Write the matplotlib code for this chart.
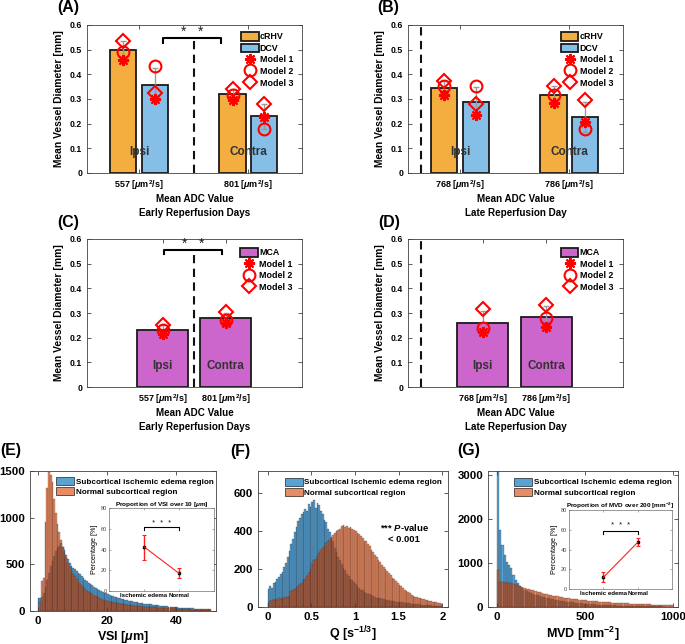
import numpy as np
import matplotlib
matplotlib.use('Agg')
import matplotlib.pyplot as plt
from matplotlib.patches import Patch
from matplotlib.lines import Line2D

plt.rcParams['font.family'] = ['Liberation Sans', 'DejaVu Sans']
plt.rcParams['mathtext.fontset'] = 'custom'
plt.rcParams['mathtext.rm'] = 'Liberation Sans:bold'
plt.rcParams['mathtext.it'] = 'Liberation Sans:italic:bold'
plt.rcParams['mathtext.bf'] = 'Liberation Sans:bold'

# ---------------- data ----------------
groups = ['Ipsi', 'Contra']
adc_early = ['557', '801']
adc_late = ['768', '786']
model_names = ['Model 1', 'Model 2', 'Model 3']

A_crhv = [0.497, 0.320]
A_dcv = [0.355, 0.230]
A_crhv_models = [[0.460, 0.490, 0.537], [0.297, 0.315, 0.340]]
A_dcv_models = [[0.300, 0.432, 0.325], [0.228, 0.180, 0.280]]

B_crhv = [0.345, 0.318]
B_dcv = [0.288, 0.228]
B_crhv_models = [[0.318, 0.352, 0.372], [0.285, 0.315, 0.352]]
B_dcv_models = [[0.235, 0.352, 0.280], [0.207, 0.180, 0.295]]

C_mca = [0.232, 0.278]
C_mca_models = [[0.215, 0.230, 0.250], [0.260, 0.270, 0.305]]

D_mca = [0.258, 0.284]
D_mca_models = [[0.222, 0.238, 0.315], [0.242, 0.278, 0.332]]

# histograms (counts per bin)
E_bin = 0.5
E_edema = [140,135,150,190,260,330,410,480,540,590,
           640,680,700,725,690,650,600,555,510,485,
           460,445,425,410,395,370,352,335,318,302,
           290,276,262,250,238,226,214,206,196,188,
           180,172,166,158,152,146,140,134,130,124,
           120,115,111,106,102,98,95,92,88,86,
           82,80,77,74,72,70,67,65,62,60,
           58,56,54,52,50,48,46,44,42,40,
           38,37,35,34,32,31,30,29,28,27,
           26,25,24,23,22,21,20,19,18,17]
E_normal = [0,100,320,350,950,1320,1490,1460,1380,1200,
            1050,930,850,760,690,620,565,510,470,430,
            400,370,340,315,290,270,252,234,218,204,
            190,178,166,156,147,138,130,123,117,111,
            106,101,97,93,89,85,82,79,76,73,
            70,67,64,62,60,58,56,54,52,50,
            48,47,45,44,42,41,40,39,38,37,
            36,35,34,33,32,31,30,29,28,27,
            24,23,22,21,20,19,18,17,16,15,
            14,13,12,12,11,10,10,9,8,7]

F_bin = 0.02
F_edema = [95,110,100,125,130,145,160,175,185,210,
           230,265,295,330,360,395,420,455,470,490,
           500,515,505,540,525,555,565,520,550,535,
           505,490,460,445,410,395,365,345,310,290,
           265,250,225,205,195,175,165,150,140,130,
           120,110,100,92,88,80,76,70,66,62,
           58,54,50,48,45,44,40,38,36,35,
           33,31,30,28,27,26,25,24,23,22,
           20,19,18,17,16,15,14,13,12,11,
           10,9,9,8,7,7,6,5,5,4]
F_normal = [20,30,35,35,40,38,45,42,50,48,
            55,52,60,85,90,95,100,110,120,125,
            140,150,165,180,200,225,245,255,270,285,
            300,310,320,335,345,355,370,380,390,400,
            405,410,425,430,420,425,415,420,410,405,
            400,390,385,375,365,350,345,330,320,300,
            290,275,265,250,235,220,210,200,190,180,
            170,155,145,135,125,115,108,100,92,85,
            80,72,65,60,55,52,48,45,42,40,
            38,35,33,30,28,25,27,22,20,15]

G_bin = 12.5
G_edema = [3080,1750,1400,1190,1020,950,880,720,620,540,
           480,430,395,365,340,320,300,282,266,250,
           236,222,210,198,186,175,165,155,147,139,
           131,124,117,110,104,98,93,88,83,78,
           74,70,66,62,59,56,53,50,47,45,
           42,40,38,36,34,32,30,29,27,26,
           25,24,22,21,20,19,18,17,16,15,
           15,14,13,12,12,11,10,10,9,9]
G_normal = [830,560,570,555,560,545,540,520,500,490,
            470,450,435,420,405,390,375,360,345,330,
            318,305,292,280,268,258,249,240,231,222,
            214,206,199,192,185,178,172,166,160,155,
            150,145,140,135,131,127,123,119,115,112,
            108,105,102,99,96,93,90,88,85,83,
            78,75,73,70,68,66,64,62,60,58,
            56,54,52,50,48,46,44,42,40,38]

inset_cats = ['Ischemic edema', 'Normal']
E_inset_mean = [42.6, 17.1]
E_inset_lo = [30.3, 12.3]
E_inset_hi = [54.2, 22.5]
G_inset_mean = [11.8, 47.2]
G_inset_lo = [7.1, 43.4]
G_inset_hi = [16.8, 51.2]

# ---------------- figure ----------------
W, H = 685, 644
fig = plt.figure(figsize=(W / 100, H / 100), dpi=100)


def add_ax(l, t, r, b):
    return fig.add_axes([l / W, 1 - b / H, (r - l) / W, (b - t) / H])


def fx(px):
    return px / W


def fy(py):
    return 1 - py / H


SPINE = '#404040'
C_CRHV = '#F4AE3F'
C_DCV = '#85BFE8'
C_MCA = '#CC66CC'
EDGE = '#1a1a1a'
markers = [(8, 2, 0), 'o', 'D']
msizes = [8, 8.5, 7.5]


def style_axes(ax, lw=0.6, length=3):
    for s in ax.spines.values():
        s.set_color(SPINE)
        s.set_linewidth(lw)
    ax.tick_params(direction='in', top=True, right=True, length=length,
                   width=lw, color=SPINE)


def bar_panel(ax, series, colors, names, models, offsets, width, xlim, adc,
              dash_x, dash_top, bracket=None, leg_anchor=(0.7, 0.95)):
    gx = np.array([1.0, 2.0])
    for vals, col, off, mod in zip(series, colors, offsets, models):
        xs = gx + off
        ax.bar(xs, vals, width, color=col, edgecolor=EDGE, linewidth=1.3, zorder=2)
        m = np.array(mod)
        sd = m.std(axis=1, ddof=1)
        ax.errorbar(xs, vals, yerr=sd, fmt='none', ecolor='#9a9a9a',
                    elinewidth=1.0, capsize=2, capthick=1.0, zorder=3)
        for k in range(3):
            ax.plot(xs, m[:, k], linestyle='none', marker=markers[k], ms=msizes[k],
                    mfc='none', mec='red', mew=1.5, color='red', zorder=4)
    for g, txt in zip(gx, groups):
        ax.text(g, 0.085, txt, ha='center', va='center', fontsize=8.5,
                fontweight='bold', color='#333333', zorder=5)
    ax.plot([dash_x, dash_x], [0, dash_top], color='#111111', lw=1.5,
            dashes=(4, 2.6), zorder=5)
    if bracket is not None:
        x1, x2, ylo, ytop, ystar = bracket
        ax.plot([x1, x1, x2, x2], [ylo, ytop, ytop, ylo], color='k', lw=1.5,
                zorder=5)
        ax.text((x1 + x2) / 2, ystar, '*   *', ha='center', va='center',
                fontsize=10, color='#222222')
    ax.set_xlim(*xlim)
    ax.set_ylim(0, 0.6)
    ax.set_yticks(np.arange(0, 0.61, 0.1))
    ax.set_yticklabels(['0', '0.1', '0.2', '0.3', '0.4', '0.5', '0.6'],
                       fontsize=6.3, fontweight='bold')
    ax.set_xticks(gx)
    ax.set_xticklabels([a + r' [$\mu$m$^2$/s]' for a in adc], fontsize=6.5,
                       fontweight='bold')
    ax.tick_params(axis='x', pad=4)
    ax.set_ylabel('Mean Vessel Diameter [mm]', fontsize=7.4, fontweight='bold',
                  labelpad=4)
    style_axes(ax)
    handles = [Patch(facecolor=c, edgecolor=EDGE, linewidth=1.3) for c in colors]
    handles += [Line2D([], [], linestyle='none', marker=markers[k], ms=msizes[k],
                       mfc='none', mec='red', mew=1.5) for k in range(3)]
    ax.legend(handles, list(names) + model_names, loc='upper left',
              bbox_to_anchor=leg_anchor, frameon=False, borderpad=0,
              borderaxespad=0, handlelength=2.0, handleheight=1.12,
              labelspacing=0.25, handletextpad=0.15,
              prop={'size': 6.4, 'weight': 'bold'})
    return ax


# Panel A
axA = add_ax(87, 25, 302, 173)
bar_panel(axA, [A_crhv, A_dcv], [C_CRHV, C_DCV], ['cRHV', 'DCV'],
          [A_crhv_models, A_dcv_models], [-0.145, 0.145], 0.24, (0.525, 2.49),
          adc_early, 1.5, 0.535, bracket=(1.22, 1.75, 0.529, 0.548, 0.572),
          leg_anchor=(0.715, 0.953))
# Panel B
axB = add_ax(408, 25, 623, 173)
bar_panel(axB, [B_crhv, B_dcv], [C_CRHV, C_DCV], ['cRHV', 'DCV'],
          [B_crhv_models, B_dcv_models], [-0.145, 0.145], 0.24, (0.525, 2.49),
          adc_late, 0.645, 0.6, leg_anchor=(0.71, 0.953))
# Panel C
axC = add_ax(87, 239, 302, 387)
bar_panel(axC, [C_mca], [C_MCA], ['MCA'], [C_mca_models], [0.0], 0.8,
          (-0.2, 3.21), adc_early, 1.5, 0.535,
          bracket=(1.02, 1.94, 0.539, 0.557, 0.578), leg_anchor=(0.713, 0.94))
# Panel D
axD = add_ax(408, 239, 623, 387)
bar_panel(axD, [D_mca], [C_MCA], ['MCA'], [D_mca_models], [0.0], 0.8,
          (-0.18, 3.21), adc_late, 0.02, 0.6, leg_anchor=(0.71, 0.94))

# x-axis titles for bar panels
for cx, y1, y2, sub in [(194.5, 199, 213, 'Early Reperfusion Days'),
                        (515.5, 199, 213, 'Late Reperfusion Day'),
                        (194.5, 413, 426.5, 'Early Reperfusion Days'),
                        (515.5, 413, 426.5, 'Late Reperfusion Day')]:
    fig.text(fx(cx), fy(y1), 'Mean ADC Value', ha='center', va='center',
             fontsize=7.1, fontweight='bold')
    fig.text(fx(cx), fy(y2), sub, ha='center', va='center', fontsize=7.1,
             fontweight='bold')

# panel letters
for lab, px, py in [('(A)', 68.5, 7.5), ('(B)', 388.5, 7.5), ('(C)', 68.5, 222),
                    ('(D)', 389, 222), ('(E)', 10.5, 450), ('(F)', 240.5, 451.5),
                    ('(G)', 469, 450)]:
    fig.text(fx(px), fy(py), lab, ha='center', va='center', fontsize=11.4,
             fontweight='bold')

BLUE = (0.0, 0.447, 0.741, 0.65)
ORANGE = (0.85, 0.325, 0.098, 0.66)
HEDGE = (0.08, 0.03, 0.03, 0.5)


def hist_panel(ax, binw, edema, normal, xlim, ylim, xticks, xticklabels,
               yticks, xlabel, leg_x, leg_y):
    n = len(edema)
    left = np.arange(n) * binw
    ax.bar(left, edema, width=binw, align='edge', facecolor=BLUE,
           edgecolor=HEDGE, linewidth=0.3)
    ax.bar(left, normal, width=binw, align='edge', facecolor=ORANGE,
           edgecolor=HEDGE, linewidth=0.3)
    ax.set_xlim(*xlim)
    ax.set_ylim(*ylim)
    ax.set_xticks(xticks)
    ax.set_xticklabels(xticklabels, fontsize=8.2, fontweight='bold')
    ax.set_yticks(yticks)
    ax.set_yticklabels([str(v) for v in yticks], fontsize=8.2, fontweight='bold')
    ax.set_xlabel(xlabel, fontsize=9, fontweight='bold', labelpad=2)
    style_axes(ax, length=3)
    handles = [Patch(facecolor=BLUE, edgecolor=(0, 0, 0, 0.7), linewidth=0.6),
               Patch(facecolor=ORANGE, edgecolor=(0, 0, 0, 0.7), linewidth=0.6)]
    ax.legend(handles, ['Subcortical ischemic edema region',
                        'Normal subcortical region'], loc='upper left',
              bbox_to_anchor=(leg_x, leg_y), frameon=False, borderpad=0,
              borderaxespad=0, handlelength=2.23, handleheight=1.14,
              labelspacing=0.2, handletextpad=0.15,
              prop={'size': 5.9, 'weight': 'bold'})


axE = add_ax(30, 471, 216, 611)
hist_panel(axE, E_bin, E_edema, E_normal, (-2.2, 51.4), (0, 1500), [0, 20, 40],
           ['0', '20', '40'], [0, 500, 1000, 1500], r'VSI [$\mu$m]', 0.141, 0.959)
axF = add_ax(258, 471, 448, 607)
hist_panel(axF, F_bin, F_edema, F_normal, (-0.11, 2.065), (0, 716),
           [0, 0.5, 1, 1.5, 2], ['0', '0.5', '1', '1.5', '2'], [0, 200, 400, 600],
           r'Q [s$^{-1/3}$]', 0.142, 0.951)
axG = add_ax(488, 471, 678, 607)
hist_panel(axG, G_bin, G_edema, G_normal, (-51, 1028), (0, 3090),
           [0, 500, 1000], ['0', '500', '1000'], [0, 1000, 2000, 3000],
           r'MVD [mm$^{-2}$]', 0.138, 0.951)

fig.text(fx(405), fy(527.5), r'*** $\mathit{P}$-value', ha='center', va='center',
         fontsize=6.8, fontweight='bold')
fig.text(fx(404), fy(540), '< 0.001', ha='center', va='center', fontsize=6.8,
         fontweight='bold')


def inset_panel(ax, title, mean, lo, hi, br_lo, br_top, star_y):
    x = np.array([1.0, 2.0])
    mean = np.array(mean)
    yerr = [mean - np.array(lo), np.array(hi) - mean]
    ax.errorbar(x, mean, yerr=yerr, color='#FF2020', lw=0.8, elinewidth=1.0,
                capsize=1.2, capthick=0.8)
    ax.plot(x, mean, linestyle='none', marker='s', ms=1.6, color='k')
    ax.plot([1, 1, 2, 2], [br_lo, br_top, br_top, br_lo], color='k', lw=0.8)
    ax.text(1.5, star_y, '*  *  *', ha='center', va='center', fontsize=6,
            color='#222222')
    ax.set_xlim(0, 3)
    ax.set_ylim(0, 80)
    ax.set_xticks(x)
    ax.set_xticklabels(inset_cats, fontsize=4.4, fontweight='bold')
    ax.set_yticks([0, 20, 40, 60, 80])
    ax.set_yticklabels(['0', '20', '40', '60', '80'], fontsize=4, color='#444444')
    ax.set_ylabel('Percentage [%]', fontsize=5.2, labelpad=1.5)
    ax.set_title(title, fontsize=4.6, fontweight='bold', pad=1.5)
    for s in ax.spines.values():
        s.set_color('#707070')
        s.set_linewidth(0.5)
    ax.tick_params(direction='in', top=True, right=True, length=1.5, width=0.4,
                   pad=1.5, color='#707070')


axEi = add_ax(109, 508, 214, 591)
inset_panel(axEi, r'Proportion of VSI over 10 [$\mu$m]', E_inset_mean, E_inset_lo,
            E_inset_hi, 58.4, 61.3, 65.2)
axGi = add_ax(569, 510, 672, 589)
inset_panel(axGi, r'Proportion of MVD over 200 [mm$^{-2}$]', G_inset_mean,
            G_inset_lo, G_inset_hi, 55.8, 59.2, 63.9)

fig.savefig('out.png', dpi=100)
